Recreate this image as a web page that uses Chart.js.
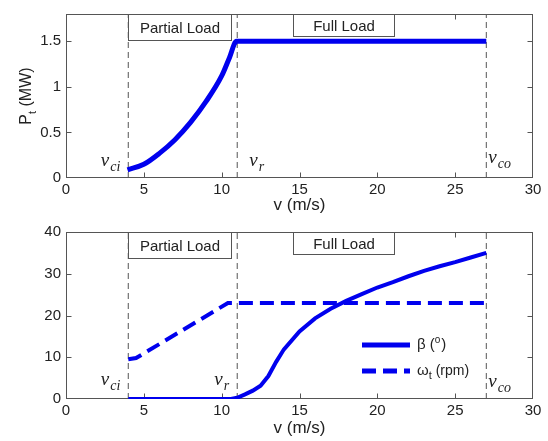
<!DOCTYPE html>
<html>
<head>
<meta charset="utf-8">
<script src="https://cdn.jsdelivr.net/npm/chart.js@4.4.0/dist/chart.umd.min.js"></script>
<style>
  html, body { margin: 0; padding: 0; background: #fff; }
  #wrap { position: relative; width: 548px; height: 441px; }
  canvas { position: absolute; left: 0; }
</style>
</head>
<body>
<div id="wrap">
  <canvas id="powerChart" width="548" height="218" style="top:0"></canvas>
  <canvas id="controlChart" width="548" height="223" style="top:218px"></canvas>
</div>
<script>
// wind speed (m/s) and turbine power (MW)
const windPower = [3.95, 5, 6, 7, 8, 9, 10, 10.5, 10.95, 27];
const powerMW = [0.09, 0.15, 0.27, 0.42, 0.61, 0.84, 1.12, 1.32, 1.5, 1.5];

// rotor speed (rpm)
const windRotor = [4, 4.5, 10.4, 27];
const rotorRpm = [9.5, 9.8, 23, 23];

// pitch angle (deg)
const windPitch = [4, 10.6, 11, 11.5, 12, 12.5, 13, 13.5, 14, 15, 16, 17, 18, 19, 20, 21, 22, 23, 24, 25, 26, 27];
const pitchDeg = [0, 0, 0.3, 1.1, 2, 3.2, 5.5, 8.9, 11.9, 16.2, 19.3, 21.6, 23.5, 25.1, 26.7, 28, 29.4, 30.7, 31.8, 32.8, 33.9, 35];

// cut-in, rated, cut-out speeds
const cutIn = 4, rated = 11, cutOut = 27;

const xTicks = [0, 5, 10, 15, 20, 25, 30];
const yTicksPower = [0, 0.5, 1, 1.5];
const yTicksControl = [0, 10, 20, 30, 40];

const BLUE = '#0000ee';
const FRAME = '#555';
const SANS = '"Liberation Sans", Arial, sans-serif';
const SERIF = '"Liberation Serif", "Times New Roman", serif';

const toPoints = (xs, ys) => xs.map((x, i) => ({ x, y: ys[i] }));

const guideLine = (v, yMax) => ({
  data: [{ x: v, y: 0 }, { x: v, y: yMax }],
  borderColor: FRAME,
  borderWidth: 1,
  borderDash: [6, 4],
  pointRadius: 0,
  order: 5
});

// matlab style box with inward ticks
const frameBox = {
  id: 'frameBox',
  beforeDatasetsDraw(chart) {
    const { ctx, chartArea: a, scales: { x, y } } = chart;
    const L = Math.round(a.left) + 0.5, R = Math.round(a.right) - 0.5;
    const T = Math.round(a.top) + 0.5, B = Math.round(a.bottom) - 0.5;
    ctx.save();
    ctx.strokeStyle = FRAME;
    ctx.lineWidth = 1;
    ctx.strokeRect(L, T, R - L, B - T);
    ctx.beginPath();
    x.ticks.forEach(t => {
      const px = Math.round(x.getPixelForValue(t.value)) + 0.5;
      if (px <= L + 1 || px >= R - 1) return;
      ctx.moveTo(px, B); ctx.lineTo(px, B - 5);
      ctx.moveTo(px, T); ctx.lineTo(px, T + 5);
    });
    y.ticks.forEach(t => {
      const py = Math.round(y.getPixelForValue(t.value)) + 0.5;
      if (py <= T + 1 || py >= B - 1) return;
      ctx.moveTo(L, py); ctx.lineTo(L + 5, py);
      ctx.moveTo(R, py); ctx.lineTo(R - 5, py);
    });
    ctx.stroke();
    ctx.restore();
  }
};

function subText(ctx, x, y, main, sub, font, size, subSize, shift, align) {
  ctx.font = font.replace('{s}', size);
  const w1 = ctx.measureText(main).width;
  ctx.font = font.replace('{s}', subSize);
  const w2 = ctx.measureText(sub).width;
  let left = align === 'right' ? x - w1 - w2 : x;
  ctx.textAlign = 'left';
  ctx.font = font.replace('{s}', size);
  ctx.fillText(main, left, y);
  ctx.font = font.replace('{s}', subSize);
  ctx.fillText(sub, left + w1 + 1, y + shift);
}

function speedLabel(ctx, chart, v, side, sub, dy) {
  const { chartArea: a, scales: { x } } = chart;
  const px = x.getPixelForValue(v);
  const base = a.bottom - dy;
  ctx.fillStyle = '#222';
  ctx.textBaseline = 'alphabetic';
  const font = 'italic {s}px ' + SERIF;
  if (side === 'left') subText(ctx, px - 9, base, 'v', sub, font, 19, 14, 5, 'right');
  else subText(ctx, px + side, base, 'v', sub, font, 19, 14, 5, 'left');
}

function loadBox(ctx, chart, from, to, h, label) {
  const { chartArea: a, scales: { x } } = chart;
  const x0 = Math.round(x.getPixelForValue(from)) + 0.5;
  const x1 = Math.round(x.getPixelForValue(to)) + 0.5;
  const y0 = Math.round(a.top) + 0.5;
  ctx.fillStyle = '#fff';
  ctx.fillRect(x0, y0, x1 - x0, h);
  ctx.strokeStyle = FRAME;
  ctx.lineWidth = 1;
  ctx.strokeRect(x0, y0, x1 - x0, h);
  ctx.fillStyle = '#222';
  ctx.font = '15px ' + SANS;
  ctx.textAlign = 'center';
  ctx.textBaseline = 'middle';
  ctx.fillText(label, (x0 + x1) / 2, y0 + h / 2 + 1);
}

const powerNotes = {
  id: 'powerNotes',
  afterDatasetsDraw(chart) {
    const { ctx, chartArea: a } = chart;
    ctx.save();
    loadBox(ctx, chart, 3.98, 10.6, 26, 'Partial Load');
    loadBox(ctx, chart, 14.6, 21.1, 22, 'Full Load');
    speedLabel(ctx, chart, cutIn, 'left', 'ci', 12);
    speedLabel(ctx, chart, rated, 12, 'r', 12);
    speedLabel(ctx, chart, cutOut, 2, 'co', 15);
    // y axis title P_t (MW)
    ctx.translate(27, (a.top + a.bottom) / 2);
    ctx.rotate(-Math.PI / 2);
    ctx.fillStyle = '#222';
    ctx.textBaseline = 'middle';
    ctx.font = '16px ' + SANS;
    const wP = ctx.measureText('P').width;
    const wRest = ctx.measureText(' (MW)').width;
    ctx.font = '11px ' + SANS;
    const wt = ctx.measureText('t').width;
    let sx = -(wP + wt + wRest) / 2;
    ctx.textAlign = 'left';
    ctx.font = '16px ' + SANS;
    ctx.fillText('P', sx, 0);
    ctx.font = '11px ' + SANS;
    ctx.fillText('t', sx + wP, 6);
    ctx.font = '16px ' + SANS;
    ctx.fillText(' (MW)', sx + wP + wt, 0);
    ctx.restore();
  }
};

const controlNotes = {
  id: 'controlNotes',
  afterDatasetsDraw(chart) {
    const { ctx } = chart;
    ctx.save();
    loadBox(ctx, chart, 3.98, 10.6, 26, 'Partial Load');
    loadBox(ctx, chart, 14.6, 21.1, 22, 'Full Load');
    speedLabel(ctx, chart, cutIn, 'left', 'ci', 14);
    speedLabel(ctx, chart, rated, 'left', 'r', 14);
    speedLabel(ctx, chart, cutOut, 2, 'co', 12);

    // legend
    const pitch = chart.data.datasets[0];
    const rotor = chart.data.datasets[1];
    const items = [
      { ds: pitch, y: 127 },
      { ds: rotor, y: 153 }
    ];
    items.forEach(it => {
      ctx.strokeStyle = it.ds.borderColor;
      ctx.lineWidth = it.ds.borderWidth + 1;
      ctx.setLineDash(it.ds.borderDash || []);
      ctx.beginPath();
      ctx.moveTo(362, it.y);
      ctx.lineTo(410, it.y);
      ctx.stroke();
    });
    ctx.setLineDash([]);
    ctx.fillStyle = '#222';
    ctx.textAlign = 'left';
    ctx.textBaseline = 'middle';
    ctx.font = '15px ' + SANS;
    ctx.fillText('β (', 417, 127);
    let w = ctx.measureText('β (').width;
    ctx.font = '10px ' + SANS;
    ctx.fillText('o', 417 + w, 122);
    let w2 = ctx.measureText('o').width;
    ctx.font = '15px ' + SANS;
    ctx.fillText(')', 417 + w + w2 + 1, 127);

    ctx.fillText('ω', 417, 153);
    w = ctx.measureText('ω').width;
    ctx.font = '11px ' + SANS;
    ctx.fillText('t', 417 + w, 158);
    w2 = ctx.measureText('t').width;
    ctx.font = '14px ' + SANS;
    ctx.fillText(' (rpm)', 417 + w + w2, 153);
    ctx.restore();
  }
};

function xScale(height) {
  return {
    type: 'linear', min: 0, max: 30,
    afterBuildTicks: s => { s.ticks = xTicks.map(v => ({ value: v })); },
    afterFit: s => { s.height = height; },
    grid: { display: false, drawTicks: false },
    border: { display: false },
    ticks: { color: '#222', padding: 3, font: { family: SANS, size: 15 }, callback: v => String(v) },
    title: { display: true, text: 'v (m/s)', color: '#222', font: { family: SANS, size: 17 }, padding: { top: 0, bottom: 2 } }
  };
}

function yScale(max, ticks) {
  return {
    type: 'linear', min: 0, max,
    afterBuildTicks: s => { s.ticks = ticks.map(v => ({ value: v })); },
    afterFit: s => { s.width = 66; },
    grid: { display: false, drawTicks: false },
    border: { display: false },
    ticks: { color: '#222', padding: 5, font: { family: SANS, size: 15 }, callback: v => String(v) }
  };
}

const common = {
  responsive: false,
  animation: false,
  events: [],
  plugins: { legend: { display: false }, tooltip: { enabled: false } }
};

new Chart(document.getElementById('powerChart'), {
  type: 'line',
  data: {
    datasets: [
      { data: toPoints(windPower, powerMW), borderColor: BLUE, borderWidth: 5, pointRadius: 0, cubicInterpolationMode: 'monotone', order: 0 },
      guideLine(cutIn, 1.8), guideLine(rated, 1.8), guideLine(cutOut, 1.8)
    ]
  },
  options: {
    ...common,
    layout: { padding: { left: 0, right: 15, top: 8, bottom: 0 } },
    scales: { x: xScale(40), y: yScale(1.8, yTicksPower) }
  },
  plugins: [frameBox, powerNotes]
});

new Chart(document.getElementById('controlChart'), {
  type: 'line',
  data: {
    datasets: [
      { data: toPoints(windPitch, pitchDeg), borderColor: BLUE, borderWidth: 4, pointRadius: 0, order: 0 },
      { data: toPoints(windRotor, rotorRpm), borderColor: BLUE, borderWidth: 4, borderDash: [14, 7], pointRadius: 0, order: 1 },
      guideLine(cutIn, 40), guideLine(rated, 40), guideLine(cutOut, 40)
    ]
  },
  options: {
    ...common,
    layout: { padding: { left: 0, right: 15, top: 13, bottom: 0 } },
    scales: { x: xScale(42), y: yScale(40, yTicksControl) }
  },
  plugins: [frameBox, controlNotes]
});
</script>
</body>
</html>
